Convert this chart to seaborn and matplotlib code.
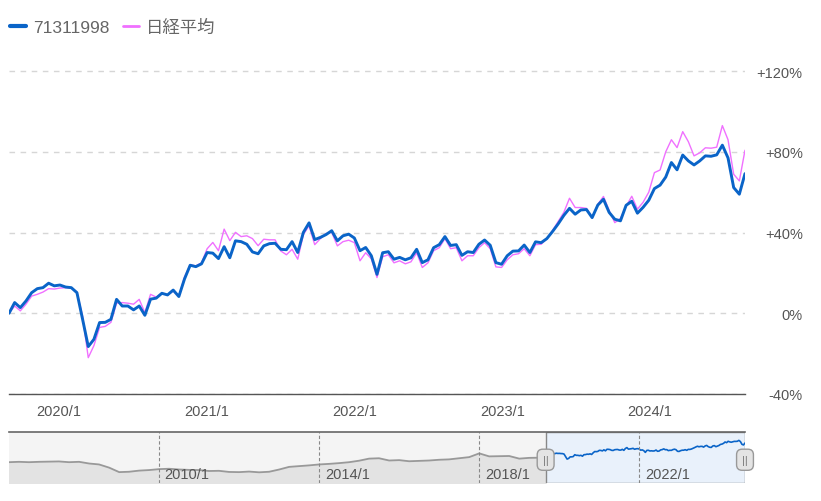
import pandas as pd
import matplotlib.pyplot as plt
import matplotlib.dates as mdates
from matplotlib.ticker import FuncFormatter
import seaborn as sns

# main chart: bi-weekly % change since start
dates = pd.date_range("2019-08-30", periods=131, freq="14D")
fund = [0, 5.3, 2.8, 6.1, 10.2, 12.2, 12.7, 14.9, 13.6, 14.0,
        13.0, 12.7, 10.2, -3.0, -16.5, -12.9, -4.6, -4.5, -3.0, 6.9,
        3.6, 3.6, 1.7, 3.6, -1.0, 7.0, 7.5, 9.9, 9.1, 11.5,
        8.3, 17.0, 23.8, 23.1, 24.5, 30.1, 29.8, 27.1, 33.0, 27.5,
        35.9, 35.5, 34.2, 30.4, 29.5, 33.4, 34.5, 34.7, 31.7, 31.5,
        35.5, 30.1, 40.1, 44.8, 36.5, 37.6, 39.0, 40.9, 35.9, 38.4,
        39.2, 37.3, 31.0, 32.6, 28.5, 19.3, 30.0, 30.5, 26.8, 27.7,
        26.5, 27.5, 31.7, 25.1, 26.5, 32.5, 34.0, 38.0, 33.6, 34.0,
        28.7, 30.5, 30.1, 34.2, 36.3, 33.7, 25.1, 24.3, 28.5, 30.8,
        30.9, 33.8, 30.1, 35.4, 35.0, 37.0, 40.5, 44.3, 48.5, 52.0,
        49.1, 51.2, 51.4, 47.4, 53.6, 56.5, 50.0, 46.6, 45.8, 53.5,
        55.5, 49.6, 52.5, 56.0, 61.8, 63.5, 67.5, 74.7, 71.1, 78.4,
        75.5, 73.5, 75.5, 78.0, 77.8, 78.5, 83.3, 77.0, 62.3, 59.0,
        69.2]
nikkei = [0, 3.6, 1.2, 4.5, 8.5, 9.4, 10.5, 12.2, 12.0, 12.5,
          12.7, 12.5, 10.5, -1.5, -22.0, -16.0, -7.0, -6.5, -4.5, 5.0,
          5.3, 5.0, 4.5, 6.9, 0.3, 9.4, 8.0, 10.0, 9.0, 11.0,
          8.5, 18.0, 24.0, 23.5, 25.0, 32.0, 35.1, 31.0, 41.7, 36.0,
          40.1, 38.0, 38.4, 37.0, 33.5, 36.7, 36.4, 36.4, 30.9, 29.0,
          31.7, 26.8, 39.0, 43.4, 34.0, 37.0, 39.5, 40.1, 33.4, 35.5,
          36.2, 35.0, 26.0, 30.0, 27.0, 17.7, 28.0, 29.0, 25.0, 26.0,
          24.5, 25.5, 30.0, 22.7, 25.0, 31.0, 32.5, 37.0, 32.0, 32.5,
          26.0, 28.5, 28.5, 32.5, 35.0, 32.0, 23.0, 22.7, 26.5, 29.0,
          29.5, 32.0, 28.5, 34.0, 34.2, 37.0, 41.0, 45.5, 50.0, 57.0,
          52.4, 52.4, 52.0, 47.4, 54.0, 57.9, 51.0, 44.9, 47.0, 53.0,
          58.0, 51.6, 55.0, 60.0, 69.7, 71.0, 80.0, 86.0, 82.1, 90.0,
          85.0, 78.0, 79.5, 82.0, 81.8, 82.3, 93.0, 86.0, 68.9, 65.6,
          80.8]

# navigator: quarterly history before the selected range
hist_dates = pd.date_range("2006-04-01", "2019-07-01", freq="QS")
hist = [-33, -31, -33, -31, -30, -29, -33, -31, -40, -45,
        -62, -86, -84, -78, -75, -70, -68, -72, -74, -75,
        -80, -79, -85, -86, -83, -87, -84, -72, -58, -54,
        -50, -45, -42, -38, -33, -25, -14, -12, -24, -22,
        -28, -26, -24, -20, -18, -12, -6, 14, -2, -1,
        0, -14, -10, -9]
nav_ticks = ["2010-01-01", "2014-01-01", "2018-01-01", "2022-01-01"]

y_ticks = [-40, 0, 40, 80, 120]

blue = "#0a64c8"
pink = "#f070ff"

sns.set_style("white")
plt.rcParams["font.family"] = ["Liberation Sans", "Noto Sans CJK JP", "DejaVu Sans"]

df = pd.DataFrame({"date": dates, "fund": fund, "nikkei": nikkei})
hist_df = pd.DataFrame({"date": list(hist_dates) + [dates[0]], "value": hist + [fund[0]]})

fig = plt.figure(figsize=(8.21, 5.02), dpi=100)
ax = fig.add_axes([9 / 821, 1 - 395 / 502, 736 / 821, 335 / 502])
nav = fig.add_axes([9 / 821, 1 - 484 / 502, 736 / 821, 51 / 502])

# main chart
sns.lineplot(data=df, x="date", y="nikkei", color=pink, linewidth=1.0, ax=ax, legend=False)
sns.lineplot(data=df, x="date", y="fund", color=blue, linewidth=2.1, ax=ax, legend=False)
ax.set_xlim(dates[0], dates[-1])
ax.set_ylim(-40, 126)
ax.set_xlabel("")
ax.set_ylabel("")
ax.set_yticks(y_ticks)
ax.yaxis.set_major_formatter(FuncFormatter(lambda v, p: f"{v:+.0f}%" if v > 0 else f"{v:.0f}%"))
ax.yaxis.tick_right()
ax.tick_params(axis="y", length=0, pad=41.5, labelsize=10.5, labelcolor="#555555")
for lab in ax.get_yticklabels():
    lab.set_horizontalalignment("right")
ax.xaxis.set_major_locator(mdates.YearLocator())
ax.xaxis.set_major_formatter(FuncFormatter(
    lambda v, p: f"{mdates.num2date(v).year}/{mdates.num2date(v).month}"))
ax.tick_params(axis="x", length=0, pad=7, labelsize=10.5, labelcolor="#555555")
ax.grid(axis="y", color="#d6d6d6", linestyle=(0, (4, 4)), linewidth=1)
ax.grid(axis="x", visible=False)
for side in ["top", "left", "right"]:
    ax.spines[side].set_visible(False)
ax.spines["bottom"].set_color("#555555")
ax.spines["bottom"].set_linewidth(1)

lines = ax.get_lines()
fig.legend([lines[1], lines[0]], ["71311998", "日経平均"], loc="center left",
           bbox_to_anchor=(0.012, 0.944), frameon=False, ncol=2, fontsize=12.5,
           handlelength=0.95, handletextpad=0.4, columnspacing=0.75,
           borderaxespad=0, borderpad=0, labelcolor="#666666")
leg = fig.legends[0]
leg.get_lines()[0].set_linewidth(3)
leg.get_lines()[1].set_linewidth(2)

# navigator
nav_lo, nav_hi = -144, 128
nav.set_xlim(hist_dates[0], dates[-1])
nav.set_ylim(nav_lo, nav_hi)
nav.axvspan(hist_dates[0], dates[0], color="#f4f4f4", zorder=0)
nav.fill_between(hist_df["date"], hist_df["value"], nav_lo, color="#e3e3e3", zorder=1)
nav.axvspan(dates[0], dates[-1], facecolor="#e9f1fb", edgecolor="#888888", linewidth=1, zorder=1)
sns.lineplot(data=hist_df, x="date", y="value", color="#999999", linewidth=1.3, ax=nav, legend=False)
sns.lineplot(data=df, x="date", y="fund", color=blue, linewidth=1.2, ax=nav, legend=False)
for t in nav_ticks:
    d = pd.Timestamp(t)
    nav.axvline(d, color="#888888", linewidth=0.8, linestyle=(0, (3, 2)), zorder=2)
    nav.annotate(f"{d.year}/{d.month}", xy=(d, 0), xycoords=("data", "axes fraction"),
                 xytext=(4, 1.5), textcoords="offset points", ha="left", va="bottom",
                 fontsize=10.5, color="#555555")
for d in [dates[0], dates[-1]]:
    nav.text(d, (nav_lo + nav_hi) / 2 - 12, "||", ha="center", va="center", fontsize=8,
             color="#777777", zorder=5,
             bbox=dict(boxstyle="round,pad=0.5,rounding_size=0.5", fc="#e4e4e4", ec="#999999", lw=1))
nav.set_xticks([])
nav.set_yticks([])
nav.set_xlabel("")
nav.set_ylabel("")
for side in ["left", "right", "bottom"]:
    nav.spines[side].set_visible(False)
nav.spines["top"].set_color("#666666")
nav.spines["top"].set_linewidth(1.2)

plt.savefig("out.png", dpi=100)
